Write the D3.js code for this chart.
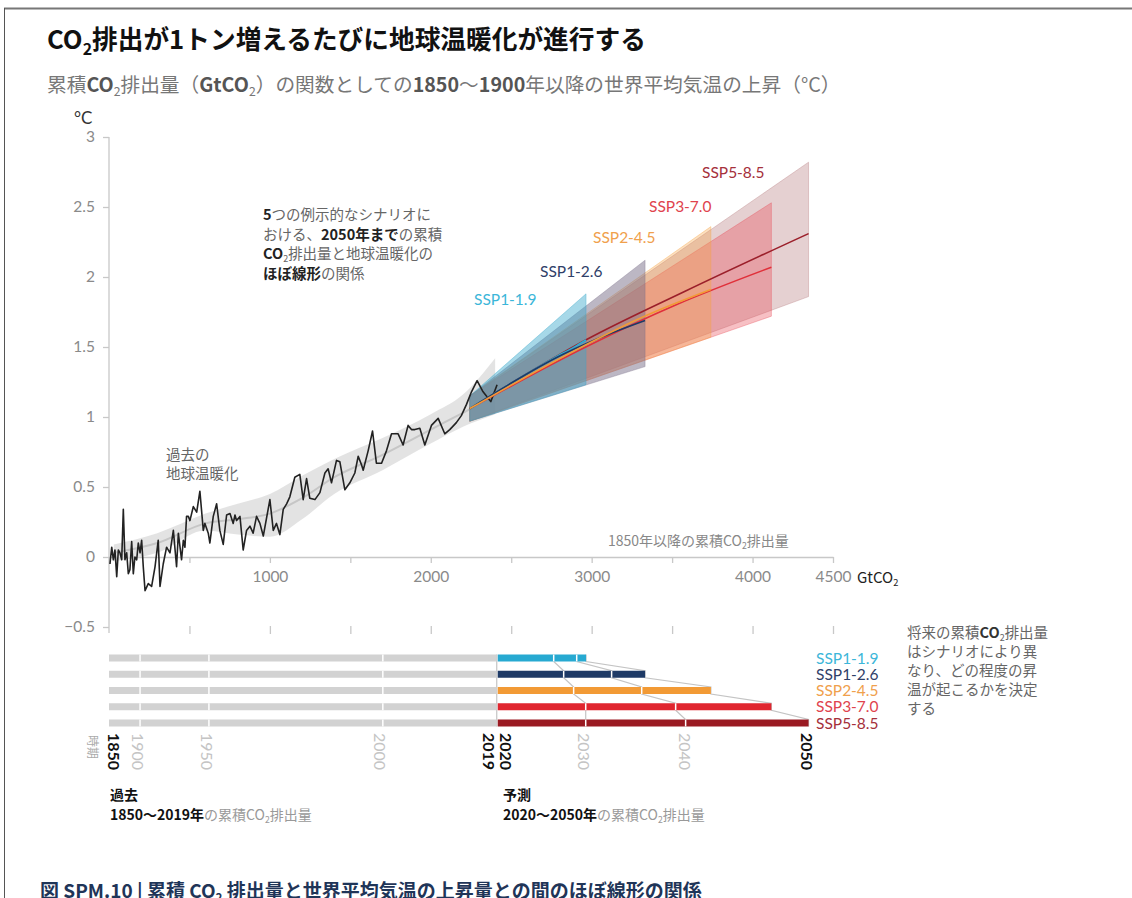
<!DOCTYPE html>
<html>
<head>
<meta charset="utf-8">
<script src="https://cdn.jsdelivr.net/npm/d3@7"></script>
<style>
  body { margin: 0; background: #fff; }
  svg { display: block; }
</style>
</head>
<body>
<script>
"use strict";

const width = 1132;
const height = 898;

// ---- data ----
// historical warming vs cumulative CO2 (GtCO2, degC)
const histCum = [6,17,27,37,48,58,68,79,89,99,110,120,130,141,151,161,172,182,193,203,
  213,224,244,265,286,306,317,337,358,379,400,420,431,451,462,472,482,493,503,524,
  545,565,586,596,617,627,648,669,689,710,731,752,772,783,793,814,834,855,876,896,
  917,938,959,1000,1021,1041,1062,1083,1104,1124,1155,1186,1207,1228,1248,1280,1311,1342,1362,1383,
  1414,1435,1466,1497,1528,1549,1569,1580,1611,1638,1662,1694,1725,1756,1797,1828,1859,1880,1901,1932,
  1963,2004,2046,2087,2118,2159,2190,2222,2253,2288,2325,2373,2412];
const histTemp = [-0.05,0.07,-0.02,0.05,-0.14,0.05,0.03,-0.02,0.34,-0.02,0.03,-0.12,-0.09,0.11,-0.12,0.0,-0.02,0.10,0.03,0.12,
  -0.07,-0.24,-0.19,-0.21,-0.07,0.12,-0.21,-0.05,0.07,0.03,0.19,-0.07,0.17,-0.02,0.12,0.07,0.29,0.29,0.26,0.36,
  0.32,0.47,0.19,0.24,0.17,0.10,0.29,0.38,0.19,0.09,0.30,0.31,0.24,0.30,0.26,0.29,0.05,0.19,0.22,0.17,
  0.29,0.24,0.15,0.41,0.19,0.24,0.16,0.34,0.38,0.43,0.57,0.59,0.41,0.56,0.42,0.41,0.46,0.60,0.63,0.53,
  0.69,0.68,0.48,0.53,0.60,0.72,0.66,0.62,0.76,0.90,0.67,0.67,0.76,0.88,0.88,0.80,0.94,0.91,0.91,0.92,
  0.80,0.94,0.99,0.88,0.91,0.96,1.01,1.09,1.18,1.26,1.18,1.11,1.23];

// smoothed historical range
const histBandCum = [30, 300, 600, 800, 1000, 1200, 1400, 1700, 2000, 2200, 2400];
const histBandLo  = [-0.03, 0.03, 0.19, 0.16, 0.145, 0.27, 0.45, 0.62, 0.81, 0.93, 1.02];
const histBandHi  = [0.09, 0.17, 0.31, 0.38, 0.45, 0.58, 0.70, 0.85, 1.02, 1.16, 1.42];
const histMid     = [0.03, 0.10, 0.24, 0.27, 0.31, 0.42, 0.57, 0.73, 0.91, 1.03, 1.15];

// scenarios
const scenarios = ["SSP1-1.9", "SSP1-2.6", "SSP2-4.5", "SSP3-7.0", "SSP5-8.5"];
const futureStartCum = 2242;
const futureStartLo = 0.97;
const futureStartHi = 1.15;
const futureStartMed = 1.06;
const cum2019 = 2410;
const cum2030 = [2764, 2826, 2888, 2963, 2963];
const cum2040 = [2907, 3124, 3311, 3522, 3584];
const cum2050 = [2965, 3332, 3741, 4117, 4348];
const med2030 = [1.42, 1.45, 1.47, 1.50, 1.55];
const med2040 = [1.51, 1.60, 1.71, 1.80, 1.90];
const med2050 = [1.55, 1.69, 1.91, 2.07, 2.31];
const lo2050  = [1.23, 1.36, 1.57, 1.72, 1.86];
const hi2050  = [1.88, 2.12, 2.36, 2.53, 2.82];

// historic year marks on the bars
const histYears = [1900, 1950, 2000];
const histYearCum = [193, 621, 1702];

// tick labels
const yTicks = [-0.5, 0, 0.5, 1, 1.5, 2, 2.5, 3];
const xTicks = [0, 500, 1000, 1500, 2000, 2500, 3000, 3500, 4000, 4500];
const xLabels = [1000, 2000, 3000, 4000, 4500];
const yearLabels = ["1850", "1900", "1950", "2000", "2019", "2020", "2030", "2040", "2050"];
const yearLabelCum = [0, 193, 621, 1702, 2410, 2410, 2963, 3584, 4348];
const yearLabelBold = [true, false, false, false, true, true, false, false, true];

// ---- styles ----
const JP = "'Noto Sans CJK JP', 'Noto Sans', sans-serif";
const NUM = "Lato, 'Open Sans', sans-serif";
const lineColors = ["#2aaed6", "#1f3a66", "#f29a35", "#e0303a", "#9b1f2a"];
const labelColors = ["#3cb6d9", "#2f4068", "#f0a04c", "#e0434d", "#a5303b"];
const bandColors = ["#3aa8cc", "#7a6f8a", "#f5a040", "#e84a55", "#b5787c"];
const bandOpacity = [0.45, 0.5, 0.33, 0.35, 0.35];
const barColors = ["#27a9d1", "#1e3a66", "#f29a35", "#e0262f", "#9a1a22"];

const svg = d3.select("body").append("svg")
  .attr("width", width)
  .attr("height", height)
  .style("background", "#fff");

// frame
svg.append("line").attr("x1", 4).attr("x2", width).attr("y1", 8.5).attr("y2", 8.5)
  .style("stroke", "#777").style("stroke-width", 2);
svg.append("line").attr("x1", 4.5).attr("x2", 4.5).attr("y1", 8).attr("y2", height)
  .style("stroke", "#555").style("stroke-width", 1);

// mixed text helper: *bold*  ~subscript~
function parse(str) {
  return str.split(/(\*[^*]+\*|~[^~]+~)/).filter(s => s).map(s =>
    s[0] === "*" ? {t: s.slice(1, -1), b: true} :
    s[0] === "~" ? {t: s.slice(1, -1), sub: true} : {t: s});
}
function rich(x, y, str, size, color, boldColor, weightAll) {
  const t = svg.append("text")
    .attr("x", x).attr("y", y)
    .style("font-family", JP)
    .style("font-size", size + "px")
    .style("fill", color);
  if (weightAll) t.style("font-weight", weightAll);
  let shift = 0;
  parse(str).forEach(p => {
    const ts = t.append("tspan").text(p.t);
    const target = p.sub ? size * 0.22 : 0;
    if (target !== shift) { ts.attr("dy", target - shift); shift = target; }
    if (p.sub) ts.style("font-size", (size * 0.62) + "px");
    if (p.b) ts.style("font-weight", "bold").style("fill", boldColor || color);
  });
  return t;
}

// titles
rich(47, 49, "CO~2~排出が1トン増えるたびに地球温暖化が進行する", 25.7, "#111", null, "bold");
rich(47, 92, "累積*CO*~2~排出量（*GtCO*~2~）の関数としての*1850*〜*1900*年以降の世界平均気温の上昇（°C）", 19.7, "#777", "#555");

// ---- scales ----
const x = d3.scaleLinear().domain([0, 4500]).range([109, 833]);
const y = d3.scaleLinear().domain([-0.5, 3]).range([627, 137]);

// y axis
svg.append("line")
  .attr("x1", x(0)).attr("x2", x(0))
  .attr("y1", y(3)).attr("y2", y(-0.5) + 6)
  .style("stroke", "#c8c8c8").style("stroke-width", 1.3);
const yAxis = svg.append("g")
  .attr("transform", `translate(${x(0)},0)`)
  .call(d3.axisLeft(y).tickValues(yTicks).tickSize(6).tickPadding(8)
    .tickFormat(d => d < 0 ? "\u2212" + Math.abs(d) : String(d)));
yAxis.select(".domain").remove();
yAxis.selectAll(".tick line").style("stroke", "#c8c8c8").style("stroke-width", 1.3);
yAxis.selectAll(".tick text").style("font-family", NUM).style("font-size", "15.5px").style("fill", "#8a8a8a");

svg.append("text").attr("x", 74).attr("y", 124).text("°C")
  .style("font-family", NUM).style("font-size", "17px").style("fill", "#333");

// x axis at 0
const xAxis = svg.append("g")
  .attr("transform", `translate(0,${y(0)})`)
  .call(d3.axisBottom(x).tickValues(xTicks).tickSize(6).tickSizeOuter(0).tickPadding(8)
    .tickFormat(d => xLabels.includes(d) ? String(d) : ""));
xAxis.select(".domain").style("stroke", "#c8c8c8").style("stroke-width", 1.3);
xAxis.selectAll(".tick line").style("stroke", "#c8c8c8").style("stroke-width", 1.3);
xAxis.selectAll(".tick text").style("font-family", NUM).style("font-size", "15.5px").style("fill", "#8a8a8a");

rich(857, 583, "GtCO~2~", 15, "#222");

// lower tick row at -0.5
const xAxis2 = svg.append("g")
  .attr("transform", `translate(0,${y(-0.5) - 1})`)
  .call(d3.axisBottom(x).tickValues(xTicks.slice(1)).tickSize(8).tickFormat(""));
xAxis2.select(".domain").remove();
xAxis2.selectAll(".tick line").style("stroke", "#c8c8c8").style("stroke-width", 1.3);

rich(608, 546, "1850年以降の累積CO~2~排出量", 14, "#888");

// ---- historical band ----
const histBand = histBandCum.map((c, i) => ({cum: c, lo: histBandLo[i], hi: histBandHi[i], mid: histMid[i]}));
svg.append("path").datum(histBand)
  .attr("d", d3.area().curve(d3.curveMonotoneX)
    .x(d => x(d.cum)).y0(d => y(d.lo)).y1(d => y(d.hi)))
  .style("fill", "#dedede").style("opacity", 0.85);
svg.append("path").datum(histBand)
  .attr("d", d3.line().curve(d3.curveMonotoneX).x(d => x(d.cum)).y(d => y(d.mid)))
  .style("fill", "none").style("stroke", "#c6c6c6").style("stroke-width", 2);

// ---- scenario bands ----
const bandOrder = [4, 3, 2, 1, 0];
bandOrder.forEach(i => {
  const pts = [
    {cum: futureStartCum, lo: futureStartLo, hi: futureStartHi},
    {cum: cum2050[i], lo: lo2050[i], hi: hi2050[i]}
  ];
  svg.append("path").datum(pts)
    .attr("d", d3.area().x(d => x(d.cum)).y0(d => y(d.lo)).y1(d => y(d.hi)))
    .style("fill", bandColors[i]).style("fill-opacity", bandOpacity[i])
    .style("stroke", bandColors[i]).style("stroke-opacity", 0.35).style("stroke-width", 1);
});

// historical line
const hist = histCum.map((c, i) => ({cum: c, t: histTemp[i]}));
svg.append("path").datum(hist)
  .attr("d", d3.line().x(d => x(d.cum)).y(d => y(d.t)))
  .style("fill", "none").style("stroke", "#222").style("stroke-width", 1.6)
  .style("stroke-linejoin", "round");

// scenario medians
[4, 3, 0, 1, 2].forEach(i => {
  const pts = [
    {cum: futureStartCum, t: futureStartMed},
    {cum: cum2030[i], t: med2030[i]},
    {cum: cum2040[i], t: med2040[i]},
    {cum: cum2050[i], t: med2050[i]}
  ];
  svg.append("path").datum(pts)
    .attr("d", d3.line().curve(d3.curveMonotoneX).x(d => x(d.cum)).y(d => y(d.t)))
    .style("fill", "none").style("stroke", lineColors[i]).style("stroke-width", 1.6);
});

// scenario labels in plot
const labelPos = [[474, 305], [540, 277], [593, 243], [649, 212], [702, 178]];
scenarios.forEach((s, i) => {
  svg.append("text").attr("x", labelPos[i][0]).attr("y", labelPos[i][1]).text(s)
    .style("font-family", NUM).style("font-size", "15.5px").style("fill", labelColors[i]);
});

// annotations
rich(263, 220, "*5*つの例示的なシナリオに", 14.5, "#666", "#222");
rich(263, 239.5, "おける、*2050年まで*の累積", 14.5, "#666", "#222");
rich(263, 259, "*CO*~2~排出量と地球温暖化の", 14.5, "#666", "#222");
rich(263, 278.5, "*ほぼ線形*の関係", 14.5, "#666", "#222");

rich(166, 460, "過去の", 14.5, "#666");
rich(166, 479, "地球温暖化", 14.5, "#666");

// ---- cumulative emission bars ----
const rowY = d3.scalePoint().domain(scenarios).range([658, 723]);
const barH = 7;

// connectors between rows
const connectorSets = [scenarios.map(() => cum2019), cum2030, cum2040, cum2050];
connectorSets.forEach(arr => {
  const pts = [];
  scenarios.forEach((s, i) => {
    pts.push([x(arr[i]), rowY(s) - barH / 2]);
    pts.push([x(arr[i]), rowY(s) + barH / 2]);
  });
  svg.append("path").attr("d", d3.line()(pts))
    .style("fill", "none").style("stroke", "#c4c4c4").style("stroke-width", 1.2);
});

scenarios.forEach((s, i) => {
  const yy = rowY(s) - barH / 2;
  svg.append("rect")
    .attr("x", x(0)).attr("y", yy)
    .attr("width", x(cum2019) - x(0)).attr("height", barH)
    .style("fill", "#d2d2d2");
  svg.append("rect")
    .attr("x", x(cum2019) + 1).attr("y", yy)
    .attr("width", x(cum2050[i]) - x(cum2019) - 1).attr("height", barH)
    .style("fill", barColors[i]);
  histYearCum.concat([cum2030[i], cum2040[i]]).forEach(c => {
    svg.append("line")
      .attr("x1", x(c)).attr("x2", x(c))
      .attr("y1", yy).attr("y2", yy + barH)
      .style("stroke", "#fff").style("stroke-width", 1.5);
  });
  svg.append("text")
    .attr("x", 816).attr("y", rowY(s)).attr("dy", "0.36em").text(s)
    .style("font-family", NUM).style("font-size", "15.5px").style("fill", labelColors[i]);
});

// year labels (rotated)
const yearOffset = [5, -2, -2, -3, -8, 9, -2, -1, -2];
yearLabels.forEach((lab, i) => {
  svg.append("text")
    .attr("transform", `translate(${x(yearLabelCum[i]) + yearOffset[i]},733) rotate(90)`)
    .attr("dy", "0.36em")
    .text(lab)
    .style("font-family", NUM)
    .style("font-size", "16px")
    .style("font-weight", yearLabelBold[i] ? "bold" : "normal")
    .style("fill", yearLabelBold[i] ? "#111" : "#c4c4c4");
});
svg.append("text")
  .attr("transform", "translate(92,735) rotate(90)")
  .attr("dy", "0.36em").text("時期")
  .style("font-family", JP).style("font-size", "12px").style("fill", "#aaa");

// bottom labels
rich(110, 800, "過去", 14, "#111", null, "bold");
rich(110, 820, "*1850〜2019年*の累積CO~2~排出量", 14, "#999", "#111");
rich(503, 800, "予測", 14, "#111", null, "bold");
rich(503, 820, "*2020〜2050年*の累積CO~2~排出量", 14, "#999", "#111");

// right note
const note = ["将来の累積*CO*~2~排出量", "はシナリオにより異", "なり、どの程度の昇", "温が起こるかを決定", "する"];
note.forEach((l, i) => rich(907, 638 + i * 19, l, 14.5, "#666", "#333"));

// caption (cut at the bottom edge, as in the source page)
rich(40, 898, "図 SPM.10 | 累積 CO~2~ 排出量と世界平均気温の上昇量との間のほぼ線形の関係", 19, "#1f3558", null, "bold");
</script>
</body>
</html>
